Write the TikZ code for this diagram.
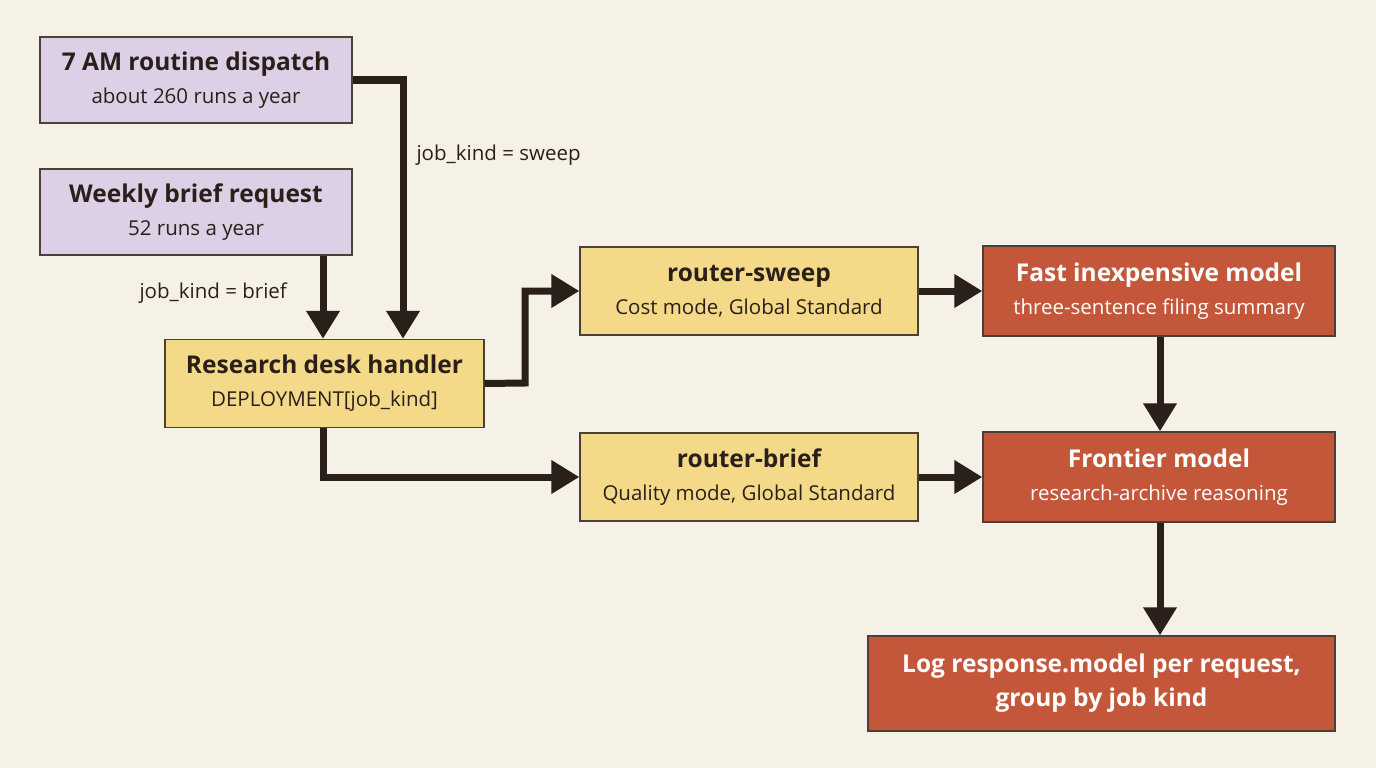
\documentclass[tikz,border=0pt]{standalone}
\usepackage{fontspec}
\setmainfont{Open Sans}
\usetikzlibrary{arrows.meta}
\definecolor{bg}{HTML}{F5F1E6}
\definecolor{purp}{HTML}{DDD0E6}
\definecolor{yel}{HTML}{F4DA88}
\definecolor{org}{HTML}{C4573A}
\definecolor{ink}{HTML}{2A2019}
\definecolor{edge}{HTML}{4A4036}
\newcommand{\boxttl}[1]{{\fontsize{24.5}{31}\selectfont\bfseries #1}}
\newcommand{\boxsub}[1]{{\fontsize{20.5}{31}\selectfont #1}}
\begin{document}
\begin{tikzpicture}[x=1pt,y=-1pt,
  box/.style={draw=edge,line width=1.3pt,minimum width=#1,inner sep=0pt,align=center,font=\fontsize{20}{31}\selectfont},
  pbox/.style={box=#1,fill=purp,text=ink,minimum height=86pt},
  ybox/.style={box=#1,fill=yel,text=ink,minimum height=88pt},
  obox/.style={box=#1,fill=org,text=white,minimum height=90pt},
  conn/.style={draw=ink,line width=7pt,-{Triangle[length=28pt,width=32pt]}},
  lbl/.style={font=\fontsize{20.5}{24}\selectfont,text=ink,anchor=west}]
\fill[bg] (0,0) rectangle (1376,768);
\useasboundingbox (0,0) rectangle (1376,768);
\node[pbox=312pt] (a) at (196,80) {\boxttl{7 AM routine dispatch}\\[2pt]\boxsub{about 260 runs a year}};
\node[pbox=312pt] (b) at (196,212) {\boxttl{Weekly brief request}\\[2pt]\boxsub{52 runs a year}};
\node[ybox=319pt] (c) at (324.5,383.5) {\boxttl{Research desk handler}\\[2pt]\boxsub{DEPLOYMENT[job\_kind]}};
\node[ybox=338pt] (d) at (749,291) {\boxttl{router-sweep}\\[2pt]\boxsub{Cost mode, Global Standard}};
\node[ybox=338pt] (e) at (749,477) {\boxttl{router-brief}\\[2pt]\boxsub{Quality mode, Global Standard}};
\node[obox=352pt] (f) at (1159,291) {\boxttl{Fast inexpensive model}\\[2pt]\boxsub{three-sentence filing summary}};
\node[obox=352pt] (g) at (1159,477) {\boxttl{Frontier model}\\[2pt]\boxsub{research-archive reasoning}};
\node[obox=467pt,minimum height=95pt] (h) at (1101.5,683.5) {\boxttl{Log response.model per request,}\\[3pt]\boxttl{group by job kind}};
\draw[conn] (a.east|-0,80) -- (403,80) -- (403,0|-c.north);
\draw[conn] (323,0|-b.south) -- (323,0|-c.north);
\draw[conn] (c.east) -- (525,383) -- (525,291) -- (d.west);
\draw[conn] (323,0|-c.south) -- (323,477) -- (e.west);
\draw[conn] (d.east) -- (f.west);
\draw[conn] (e.east) -- (g.west);
\draw[conn] (1160,0|-f.south) -- (1160,0|-g.north);
\draw[conn] (1160,0|-g.south) -- (1160,0|-h.north);
\node[lbl] (l1) at (413,155) {job\_kind = sweep};
\node[lbl] (l2) at (136,293) {job\_kind = brief};
\end{tikzpicture}
\end{document}
